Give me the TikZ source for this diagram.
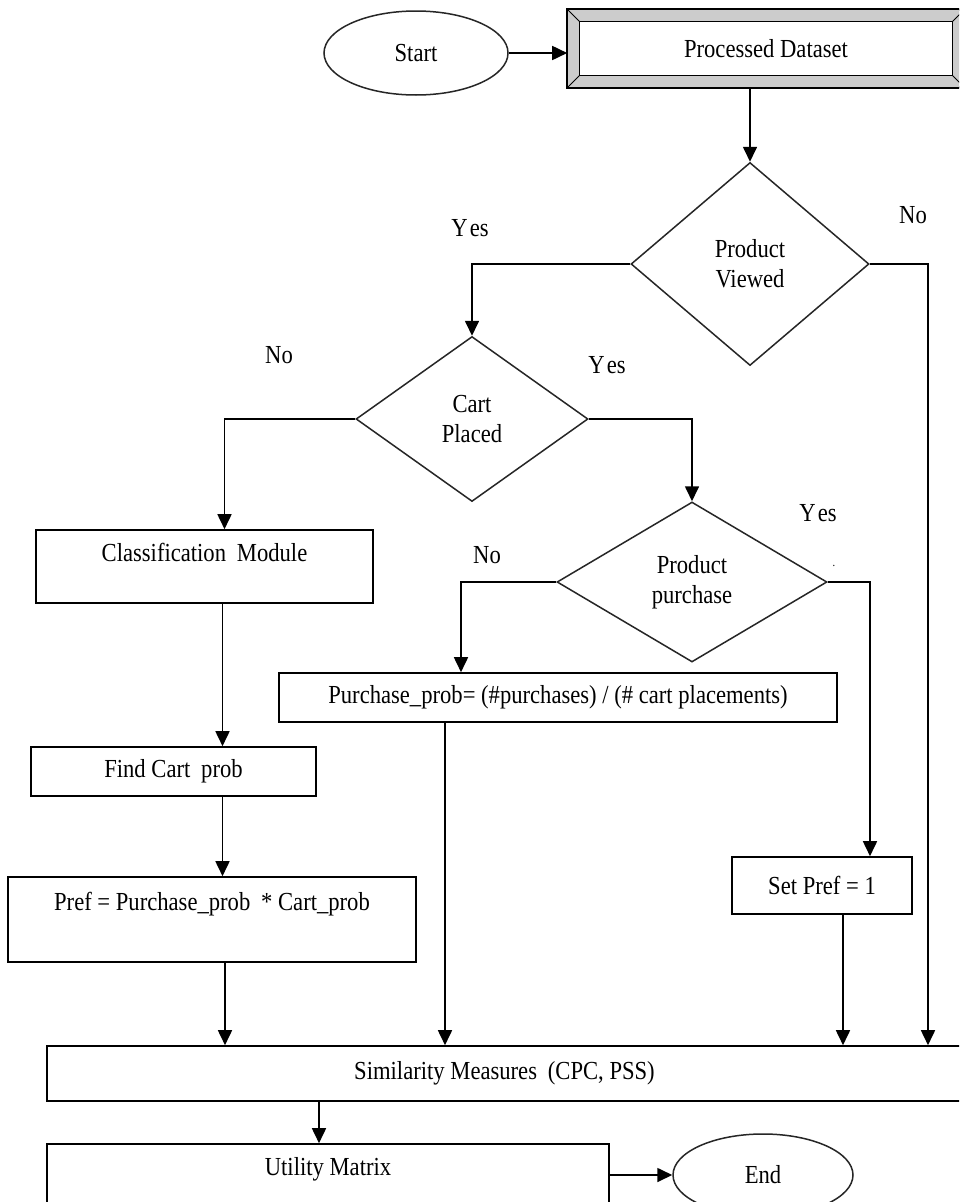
\documentclass[tikz,border=0pt]{standalone}
\usepackage{fontspec}
\setmainfont[FakeStretch=0.87]{Liberation Serif}
\usetikzlibrary{arrows.meta,shapes.geometric,calc}
\begin{document}
\begin{tikzpicture}[x=1pt,y=-1pt,
  font=\fontsize{26}{30}\selectfont,
  box/.style={draw, rectangle, line width=1.6pt, inner sep=0pt, align=center},
  dia/.style={draw=black!85, diamond, line width=1.5pt, inner sep=0pt, align=center},
  oval/.style={draw=black!85, ellipse, line width=1.5pt, inner sep=0pt},
  lbl/.style={inner sep=0pt},
  conn/.style={-{Triangle[length=15pt,width=14pt]}, line width=1.7pt}]
\useasboundingbox (0,0) rectangle (959,1202);
\clip (0,0) rectangle (959,1202);
\fill[white] (0,0) rectangle (959,1202);

% nodes
\node[oval, minimum width=184pt, minimum height=84pt] (start) at (416,53) {Start};
\node[box, minimum width=396pt, minimum height=77pt] (proc) at (766,48.5) {Processed Dataset};
\fill[gray!40, even odd rule] (proc.north west) rectangle (proc.south east)
  ([shift={(12pt,-12pt)}]proc.north west) rectangle ([shift={(-12pt,12pt)}]proc.south east);
\draw[line width=1.6pt] (proc.north west) rectangle (proc.south east);
\draw[line width=1pt] ([shift={(12pt,-12pt)}]proc.north west) rectangle ([shift={(-12pt,12pt)}]proc.south east);
\draw[line width=1pt] (proc.north west) -- ([shift={(12pt,-12pt)}]proc.north west);
\draw[line width=1pt] (proc.south west) -- ([shift={(12pt,12pt)}]proc.south west);
\draw[line width=1pt] (proc.north east) -- ([shift={(-12pt,-12pt)}]proc.north east);
\draw[line width=1pt] (proc.south east) -- ([shift={(-12pt,12pt)}]proc.south east);

\node[dia, minimum width=238pt, minimum height=203pt] (pv) at (750,264) {Product\\Viewed};
\node[dia, minimum width=232pt, minimum height=165pt] (cp) at (472,419) {Cart\\Placed};
\node[dia, minimum width=270pt, minimum height=160pt] (pp) at (692,582) {Product\\purchase};

\node[box, minimum width=337pt, minimum height=73pt,
  label={[anchor=north, inner sep=0pt, yshift=-14pt]north:Classification\hspace{0.2em} Module}] (cls) at (204.5,566.5) {};
\node[box, minimum width=558pt, minimum height=49pt] (pprob) at (558,697.5) {Purchase\_prob= (\#purchases) / (\# cart placements)};
\node[box, minimum width=285pt, minimum height=49pt] (fcart) at (173.5,771.5) {Find Cart\hspace{0.2em} prob};
\node[box, minimum width=408pt, minimum height=85pt,
  label={[anchor=north, inner sep=0pt, yshift=-16pt]north:Pref = Purchase\_prob\hspace{0.2em} * Cart\_prob}] (pref) at (212,919.5) {};
\node[box, minimum width=180pt, minimum height=57pt] (setp) at (822,885.5) {Set Pref = 1};
\node[box, minimum width=915pt, minimum height=55pt] (sim) at (504.5,1073.5) {Similarity Measures\hspace{0.2em} (CPC, PSS)};
\node[box, minimum width=562pt, minimum height=96pt,
  label={[anchor=north, inner sep=0pt, yshift=-14pt]north:Utility Matrix}] (util) at (328,1192) {};
\node[oval, minimum width=180pt, minimum height=82pt] (end) at (763,1175) {End};

% labels
\node[lbl] (y1) at (470,228) {Y\hspace{0.08em}es};
\node[lbl] (n1) at (913,215) {No};
\node[lbl] (n2) at (279,355) {No};
\node[lbl] (y2) at (607,365) {Y\hspace{0.08em}es};
\node[lbl] (y3) at (818,513) {Y\hspace{0.08em}es};
\node[lbl] (n3) at (487,555) {No};
\node[lbl, font=\fontsize{12}{14}\selectfont] (dot) at (834,566) {.};

% coordinates for offset connectors
\coordinate (c1) at ([xshift=20pt]cls.north);
\coordinate (c2) at ([xshift=-97pt]pprob.north);
\coordinate (c3) at ([xshift=48pt]setp.north);
\coordinate (c4) at ([xshift=423.5pt]sim.north);
\coordinate (c5) at ([xshift=18pt]cls.south);
\coordinate (c6) at ([xshift=49pt]fcart.south);
\coordinate (c7) at ([xshift=13pt]pref.south);
\coordinate (c8) at ([xshift=-113pt]pprob.south);
\coordinate (c9) at ([xshift=21pt]setp.south);
\coordinate (c10) at ([xshift=-185.5pt]sim.south);

% connectors
\draw[conn] (start.east) -- (start.east -| proc.west);
\draw[conn] (proc.south -| pv.north) -- (pv.north);
\draw[conn] (pv.west) -| (cp.north);
\draw[conn] (pv.east) -| (c4);
\draw[conn] (cp.west) -| (c1);
\draw[conn] (cp.east) -| (pp.north);
\draw[conn] (pp.west) -| (c2);
\draw[conn] (pp.east) -| (c3);
\draw[conn] (c5) -- (c5 |- fcart.north);
\draw[conn] (c6) -- (c6 |- pref.north);
\draw[conn] (c7) -- (c7 |- sim.north);
\draw[conn] (c8) -- (c8 |- sim.north);
\draw[conn] (c9) -- (c9 |- sim.north);
\draw[conn] (c10) -- (c10 |- util.north);
\draw[conn] (util.east |- end.west) -- (end.west);
\end{tikzpicture}
\end{document}
